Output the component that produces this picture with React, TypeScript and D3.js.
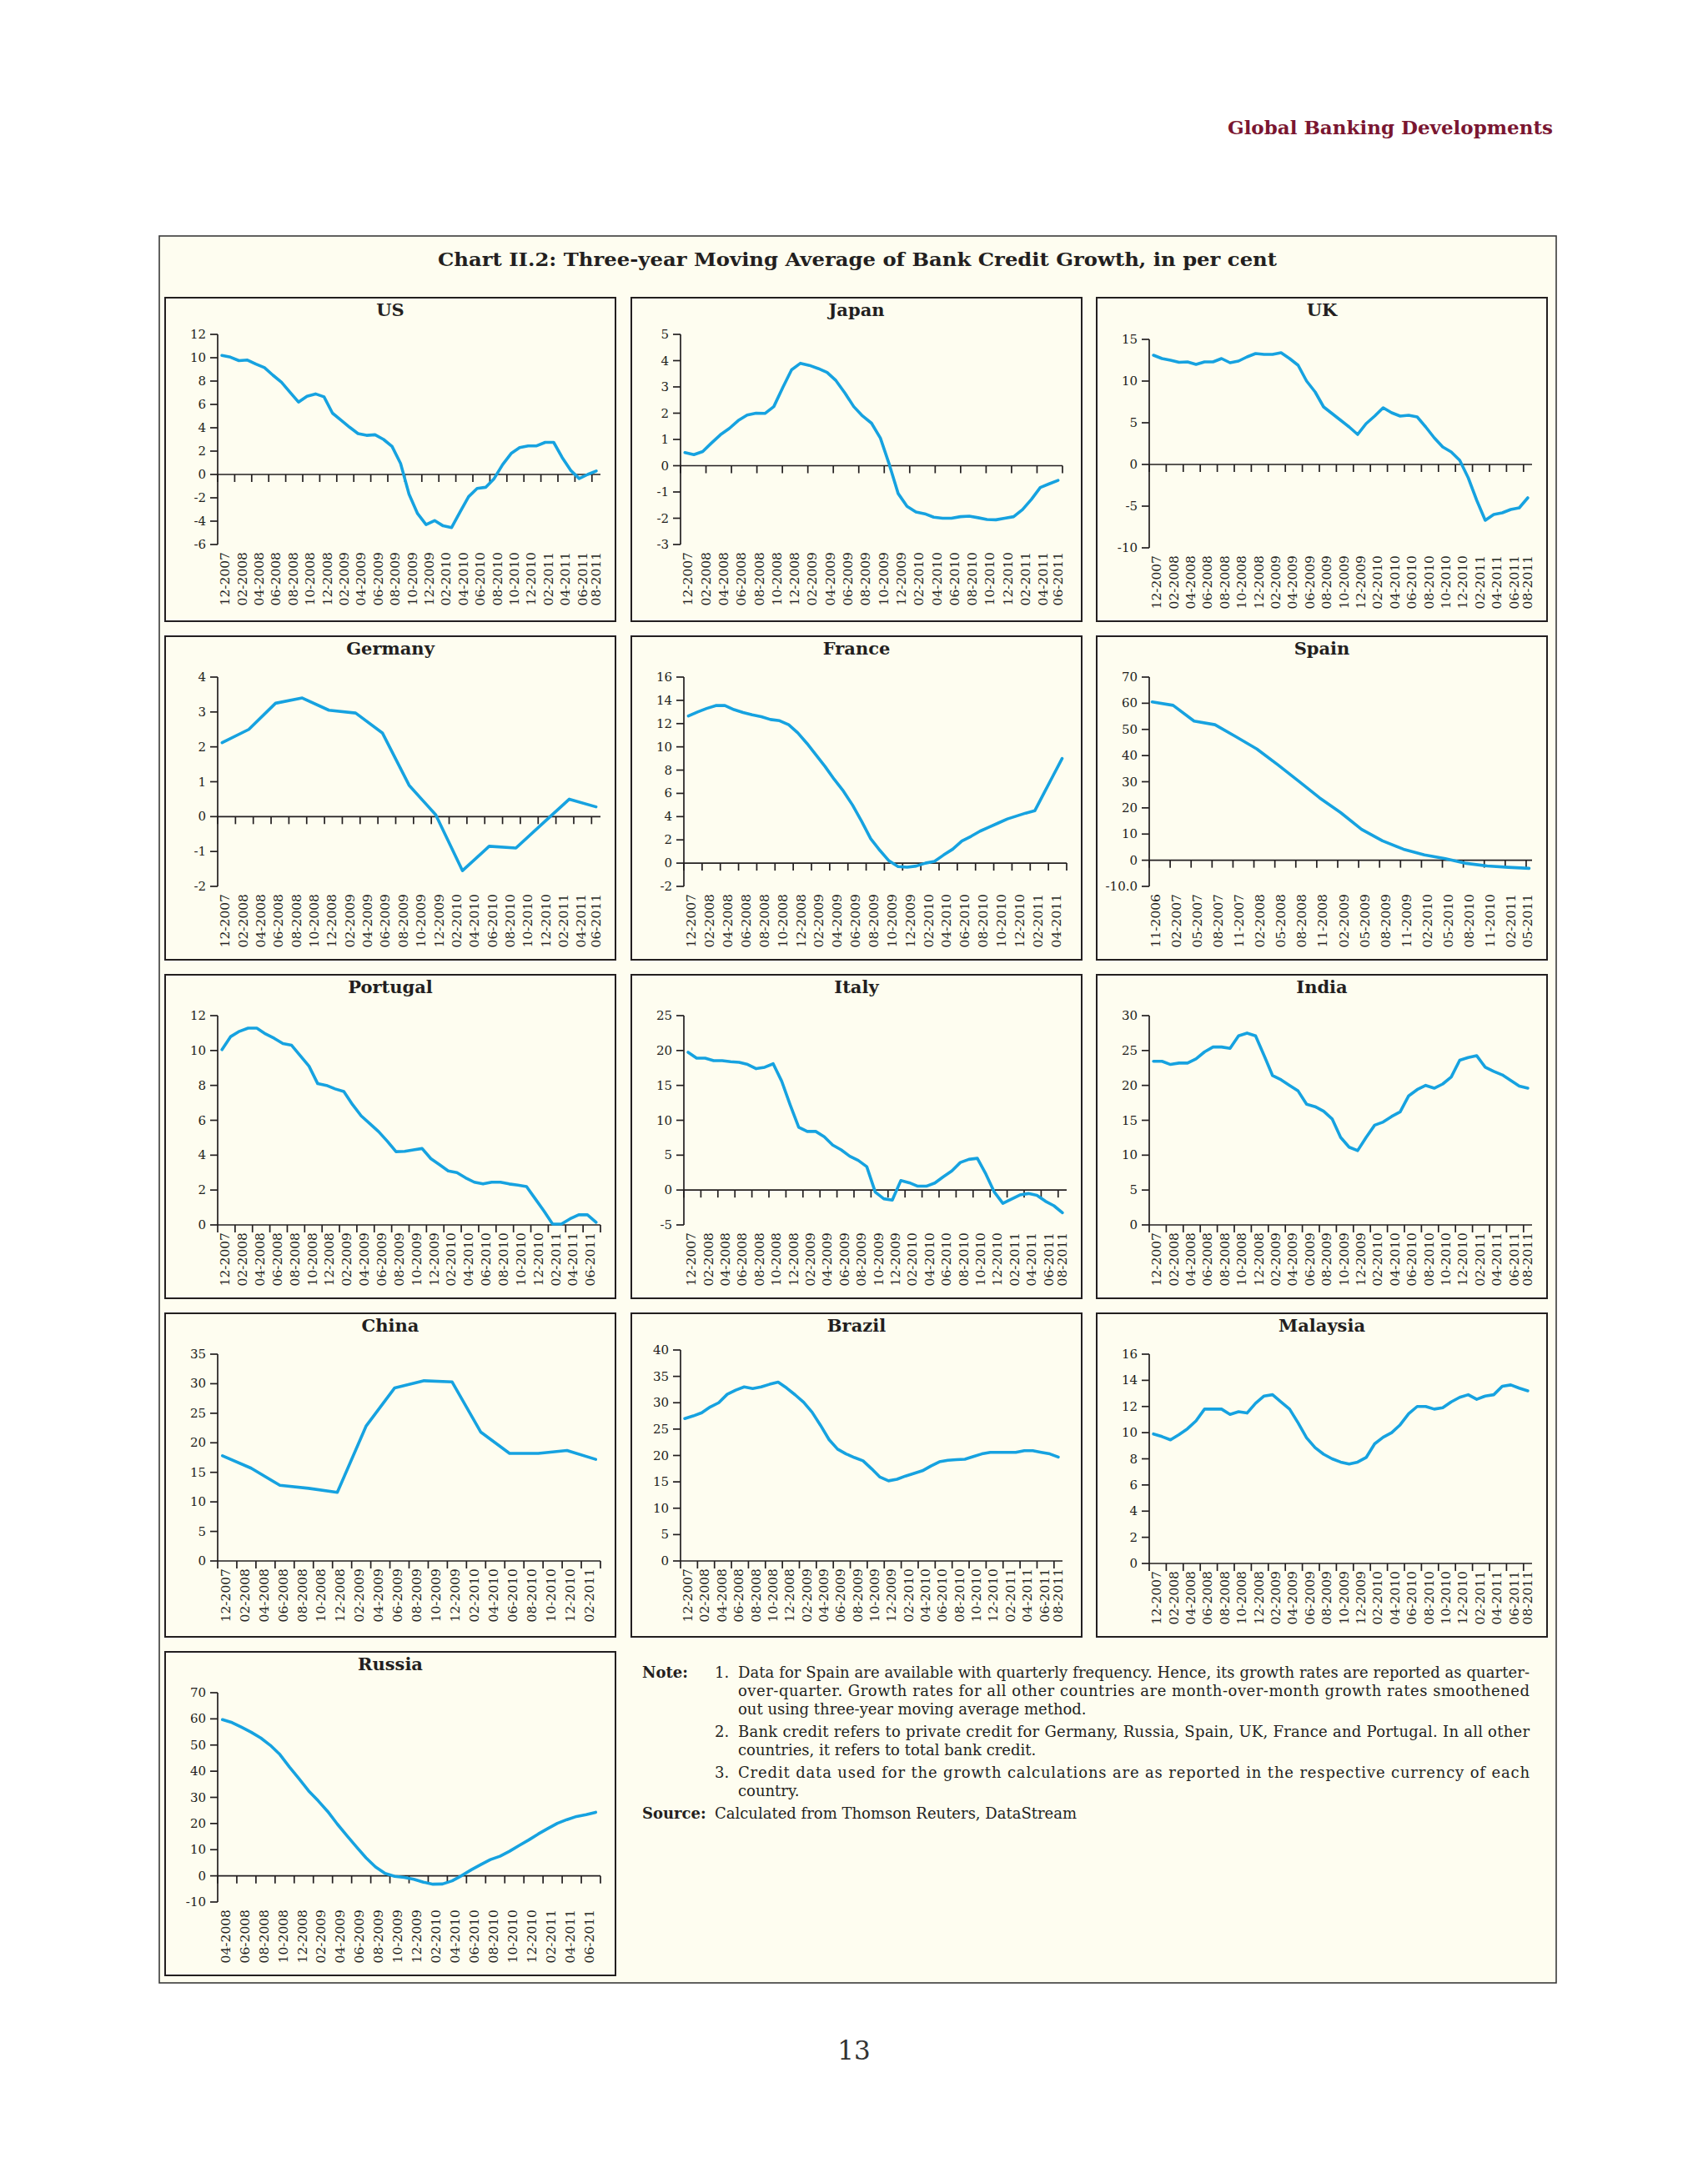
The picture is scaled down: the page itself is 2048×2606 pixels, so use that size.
import React from "react";
import * as d3 from "d3";

// ---------- DATA ----------
const monthLabels = ["12-2007","02-2008","04-2008","06-2008","08-2008","10-2008","12-2008","02-2009","04-2009","06-2009","08-2009","10-2009","12-2009","02-2010","04-2010","06-2010","08-2010","10-2010","12-2010","02-2011","04-2011","06-2011","08-2011"];
const russiaLabels = ["04-2008","06-2008","08-2008","10-2008","12-2008","02-2009","04-2009","06-2009","08-2009","10-2009","12-2009","02-2010","04-2010","06-2010","08-2010","10-2010","12-2010","02-2011","04-2011","06-2011"];
const spainLabels = ["11-2006","02-2007","05-2007","08-2007","11-2007","02-2008","05-2008","08-2008","11-2008","02-2009","05-2009","08-2009","11-2009","02-2010","05-2010","08-2010","11-2010","02-2011","05-2011"];

const usValues = [10.2,10.05,9.75,9.8,9.45,9.15,8.5,7.9,7.05,6.2,6.7,6.9,6.65,5.25,4.65,4.05,3.5,3.35,3.4,3.0,2.4,0.95,-1.7,-3.35,-4.3,-3.95,-4.4,-4.55,-3.2,-1.9,-1.2,-1.1,-0.35,0.85,1.8,2.3,2.45,2.45,2.75,2.75,1.45,0.35,-0.35,0.0,0.3];
const japanValues = [0.5,0.42,0.54,0.87,1.18,1.42,1.72,1.93,2.0,1.99,2.25,2.97,3.65,3.9,3.82,3.7,3.55,3.24,2.77,2.25,1.89,1.62,1.05,0.05,-1.06,-1.55,-1.76,-1.83,-1.96,-2.0,-2.0,-1.94,-1.92,-1.98,-2.05,-2.06,-2.0,-1.94,-1.67,-1.28,-0.83,-0.69,-0.56];
const ukValues = [13.1,12.7,12.5,12.25,12.3,12.0,12.3,12.3,12.7,12.2,12.4,12.9,13.3,13.2,13.2,13.4,12.7,11.9,10.0,8.7,6.9,6.1,5.3,4.5,3.6,4.9,5.8,6.8,6.2,5.8,5.9,5.7,4.5,3.2,2.1,1.5,0.5,-1.6,-4.3,-6.7,-6.0,-5.8,-5.4,-5.2,-4.0];
const germanyValues = [2.12,2.5,3.25,3.4,3.05,2.97,2.4,0.9,0.05,-1.55,-0.85,-0.9,-0.2,0.5,0.28];
const franceValues = [12.65,13.0,13.3,13.55,13.55,13.2,12.95,12.75,12.6,12.35,12.25,11.9,11.2,10.3,9.3,8.3,7.2,6.2,5.0,3.6,2.1,1.1,0.2,-0.3,-0.35,-0.25,0.0,0.15,0.7,1.2,1.9,2.3,2.75,3.1,3.45,3.8,4.05,4.3,4.5,6.0,7.5,9.0];
const spainValues = [60.5,59.2,53.2,51.8,47.2,42.5,36.5,30.2,23.8,18.2,11.8,7.4,4.2,2.0,0.6,-1.2,-2.2,-2.7,-3.1];
const portugalValues = [10.05,10.8,11.1,11.28,11.28,10.95,10.7,10.4,10.3,9.7,9.1,8.1,8.0,7.8,7.65,6.9,6.25,5.8,5.35,4.8,4.2,4.22,4.3,4.38,3.8,3.45,3.1,3.0,2.7,2.45,2.35,2.45,2.45,2.35,2.28,2.2,1.5,0.8,0.05,0.05,0.35,0.58,0.58,0.15];
const italyValues = [19.75,18.9,18.9,18.55,18.55,18.4,18.3,18.0,17.4,17.6,18.1,15.6,12.2,9.0,8.4,8.4,7.65,6.45,5.75,4.85,4.25,3.35,-0.3,-1.25,-1.45,1.35,1.05,0.55,0.55,1.0,1.9,2.75,3.95,4.4,4.55,2.3,-0.3,-1.9,-1.3,-0.7,-0.5,-0.75,-1.6,-2.25,-3.25];
const indiaValues = [23.45,23.45,23.0,23.2,23.2,23.8,24.8,25.5,25.5,25.3,27.1,27.5,27.1,24.3,21.4,20.8,20.0,19.2,17.3,16.95,16.3,15.2,12.55,11.15,10.65,12.55,14.3,14.75,15.55,16.2,18.5,19.4,20.0,19.6,20.2,21.2,23.6,24.0,24.25,22.6,22.0,21.5,20.7,19.9,19.6];
const chinaValues = [17.8,15.7,12.8,12.3,11.6,22.8,29.3,30.5,30.3,21.8,18.2,18.2,18.7,17.2];
const brazilValues = [27.0,27.5,28.1,29.2,30.0,31.6,32.4,33.0,32.7,33.0,33.5,33.9,32.8,31.5,30.1,28.2,25.7,23.0,21.2,20.3,19.6,19.0,17.5,15.9,15.2,15.5,16.1,16.6,17.1,18.0,18.8,19.1,19.2,19.3,19.8,20.3,20.6,20.6,20.6,20.6,20.9,20.9,20.6,20.3,19.7];
const malaysiaValues = [9.9,9.7,9.45,9.85,10.3,10.9,11.8,11.8,11.8,11.4,11.6,11.5,12.25,12.8,12.9,12.35,11.8,10.75,9.6,8.85,8.35,8.0,7.75,7.6,7.75,8.1,9.15,9.65,10.0,10.6,11.45,12.0,12.0,11.8,11.9,12.35,12.7,12.9,12.55,12.8,12.9,13.55,13.65,13.4,13.2];
const russiaValues = [59.7,58.6,56.8,54.9,52.7,49.9,46.4,41.6,37.1,32.5,28.7,24.6,19.8,15.4,11.1,6.9,3.4,0.9,-0.2,-0.6,-1.3,-2.4,-3.2,-3.1,-1.9,0.1,2.3,4.3,6.2,7.5,9.4,11.6,13.7,16.0,18.1,20.1,21.5,22.7,23.4,24.3];

const noteLines = [
  "Data for Spain are available with quarterly frequency. Hence, its growth rates are reported as quarter-",
  "over-quarter. Growth rates for all other countries are month-over-month growth rates smoothened",
  "out using three-year moving average method.",
  "Bank credit refers to private credit for Germany, Russia, Spain, UK, France and Portugal. In all other",
  "countries, it refers to total bank credit.",
  "Credit data used for the growth calculations are as reported in the respective currency of each",
  "country.",
];
const sourceText = "Calculated from Thomson Reuters, DataStream";

// ---------- LAYOUT ----------
const W = 2048, H = 2606;
const COL_X = [198, 757, 1315];
const ROW_Y = [357, 763, 1169, 1575, 1981];
const PW = 540, PH = 388;
const CREAM = "#FEFDF0";
const INK = "#231F20";
const LINE = "#16A2E0";
const FONT = "'DejaVu Serif', serif";

type Cfg = {
  title: string; col: number; row: number;
  values: number[]; every: number; n: number;
  labels: string[]; labelEvery: number;
  yMin: number; yMax: number; yStep: number; yFmt?: (v: number) => string;
  tickDiv: number; pad?: number;
  left?: number; right?: number; top?: number; bottom?: number;
};

const panels: Cfg[] = [
  { title: "US", col: 0, row: 0, values: usValues, every: 1, n: 45, labels: monthLabels, labelEvery: 2, yMin: -6, yMax: 12, yStep: 2, tickDiv: 22.5, top: 44, bottom: 296 },
  { title: "Japan", col: 1, row: 0, values: japanValues, every: 1, n: 43, labels: monthLabels.slice(0, 22), labelEvery: 2, yMin: -3, yMax: 5, yStep: 1, tickDiv: 15, left: 59, right: 517, top: 44, bottom: 296 },
  { title: "UK", col: 2, row: 0, values: ukValues, every: 1, n: 45, labels: monthLabels, labelEvery: 2, yMin: -10, yMax: 15, yStep: 5, tickDiv: 22.5, top: 50 },
  { title: "Germany", col: 0, row: 1, values: germanyValues, every: 3, n: 43, labels: monthLabels.slice(0, 22), labelEvery: 2, yMin: -2, yMax: 4, yStep: 1, tickDiv: 21.5 },
  { title: "France", col: 1, row: 1, values: franceValues, every: 1, n: 42, labels: monthLabels.slice(0, 21), labelEvery: 2, yMin: -2, yMax: 16, yStep: 2, tickDiv: 21 },
  { title: "Spain", col: 2, row: 1, values: spainValues, every: 1, n: 19, labels: spainLabels, labelEvery: 1, yMin: -10, yMax: 70, yStep: 10, yFmt: (v) => (v === -10 ? "-10.0" : String(v)), tickDiv: 18.28, pad: 0.14 },
  { title: "Portugal", col: 0, row: 2, values: portugalValues, every: 1, n: 44, labels: monthLabels.slice(0, 22), labelEvery: 2, yMin: 0, yMax: 12, yStep: 2, tickDiv: 22 },
  { title: "Italy", col: 1, row: 2, values: italyValues, every: 1, n: 45, labels: monthLabels, labelEvery: 2, yMin: -5, yMax: 25, yStep: 5, tickDiv: 22.5 },
  { title: "India", col: 2, row: 2, values: indiaValues, every: 1, n: 45, labels: monthLabels, labelEvery: 2, yMin: 0, yMax: 30, yStep: 5, tickDiv: 22.5 },
  { title: "China", col: 0, row: 3, values: chinaValues, every: 3, n: 40, labels: monthLabels.slice(0, 20), labelEvery: 2, yMin: 0, yMax: 35, yStep: 5, tickDiv: 20, bottom: 297 },
  { title: "Brazil", col: 1, row: 3, values: brazilValues, every: 1, n: 45, labels: monthLabels, labelEvery: 2, yMin: 0, yMax: 40, yStep: 5, tickDiv: 22.5, left: 59, right: 517, top: 44, bottom: 297 },
  { title: "Malaysia", col: 2, row: 3, values: malaysiaValues, every: 1, n: 45, labels: monthLabels, labelEvery: 2, yMin: 0, yMax: 16, yStep: 2, tickDiv: 22.5 },
  { title: "Russia", col: 0, row: 4, values: russiaValues, every: 1, n: 40, labels: russiaLabels, labelEvery: 2, yMin: -10, yMax: 70, yStep: 10, tickDiv: 20 },
];

function Panel({ cfg }: { cfg: Cfg }) {
  const px = COL_X[cfg.col], py = ROW_Y[cfg.row];
  const L = px + (cfg.left ?? 63), R = px + (cfg.right ?? 522);
  const T = py + (cfg.top ?? 49), B = py + (cfg.bottom ?? 300);
  const pad = cfg.pad ?? 0.5;
  const x = d3.scaleLinear().domain([-pad, cfg.n - 1 + pad]).range([L, R]);
  const y = d3.scaleLinear().domain([cfg.yMin, cfg.yMax]).range([B, T]);
  const path = d3.line<number>()
    .x((_, j) => x(j * cfg.every))
    .y((v) => y(v))(cfg.values) || "";
  const y0 = y(Math.max(cfg.yMin, 0));
  const yTicks = d3.range(cfg.yMin, cfg.yMax + cfg.yStep / 2, cfg.yStep);
  const tickSp = (R - L) / cfg.tickDiv;
  const xTicks = d3.range(0, Math.floor(cfg.tickDiv + 1e-6) + 1).map((k) => L + k * tickSp);
  const fmt = cfg.yFmt ?? ((v: number) => String(v));
  return (
    <g>
      <rect x={px} y={py} width={PW} height={PH} fill={CREAM} stroke={INK} strokeWidth={2} />
      <text x={px + PW / 2} y={py + 22} textAnchor="middle" fontWeight="bold" fontSize={21} fill={INK}>{cfg.title}</text>
      <line x1={L} x2={L} y1={T} y2={B} stroke={INK} strokeWidth={1.7} />
      {yTicks.map((v) => (
        <g key={"y" + v}>
          <line x1={L - 9} x2={L} y1={y(v)} y2={y(v)} stroke={INK} strokeWidth={1.7} />
          <text x={L - 14} y={y(v)} textAnchor="end" dominantBaseline="central" fontSize={15} fill={INK}>{fmt(v)}</text>
        </g>
      ))}
      <line x1={L} x2={R} y1={y0} y2={y0} stroke={INK} strokeWidth={1.7} />
      {xTicks.map((tx, k) => (
        <line key={"t" + k} x1={tx} x2={tx} y1={y0} y2={y0 + 9} stroke={INK} strokeWidth={1.7} />
      ))}
      {cfg.labels.map((lab, j) => {
        const lx = Math.min(x(j * cfg.labelEvery) + 4, R - 5);
        const ly = B + 9;
        return (
          <text key={"l" + j} transform={`translate(${lx},${ly}) rotate(-90)`} textAnchor="end" dominantBaseline="central" fontSize={15.5} fill={INK}>{lab}</text>
        );
      })}
      <path d={path} fill="none" stroke={LINE} strokeWidth={3.6} strokeLinejoin="round" strokeLinecap="round" />
    </g>
  );
}

function Notes() {
  const nx = 770, numX = 857, tx = 885, right = 1834;
  const ys = [2012, 2034, 2056, 2083, 2105, 2132, 2154];
  const justified = [true, true, false, true, false, true, false];
  const nums: Record<number, string> = { 0: "1.", 3: "2.", 5: "3." };
  return (
    <g fontSize={18} fill={INK}>
      <text x={nx} y={ys[0]} fontWeight="bold">Note:</text>
      {noteLines.map((t, i) => (
        <g key={i}>
          {nums[i] && <text x={numX} y={ys[i]}>{nums[i]}</text>}
          {justified[i] ? (
            <text x={tx} y={ys[i]} textLength={right - tx} lengthAdjust="spacing">{t}</text>
          ) : (
            <text x={tx} y={ys[i]}>{t}</text>
          )}
        </g>
      ))}
      <text x={nx} y={2181} fontWeight="bold">Source:</text>
      <text x={numX} y={2181}>{sourceText}</text>
    </g>
  );
}

export default function App() {
  return (
    <svg width={W} height={H} viewBox={`0 0 ${W} ${H}`} style={{ position: "absolute", left: 0, top: 0, background: "#FFFFFF" }} fontFamily={FONT}>
      <rect x={0} y={0} width={W} height={H} fill="#FFFFFF" />
      <text x={1862} y={161} textAnchor="end" fontWeight="bold" fontSize={23} fill="#7A1631">Global Banking Developments</text>
      <rect x={191} y={283} width={1675} height={2095} fill={CREAM} stroke="#3a3a3a" strokeWidth={1.6} />
      <text x={1028} y={319} textAnchor="middle" fontWeight="bold" fontSize={23} fill={INK} textLength={1006} lengthAdjust="spacingAndGlyphs">Chart II.2: Three-year Moving Average of Bank Credit Growth, in per cent</text>
      {panels.map((p) => <Panel key={p.title} cfg={p} />)}
      <Notes />
      <text x={1024} y={2470} textAnchor="middle" fontSize={31} fill="#333">13</text>
    </svg>
  );
}
